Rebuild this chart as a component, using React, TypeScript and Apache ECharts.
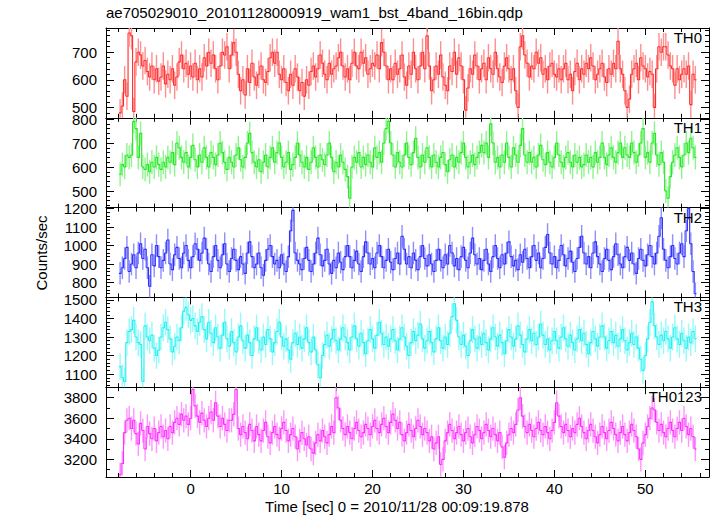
import React, { useEffect, useRef } from "react";
import * as echarts from "echarts";

// ---------------- data ----------------
const TITLE = "ae705029010_20101128000919_wam1_bst_4band_16bin.qdp";
const X_TITLE = "Time [sec] 0 = 2010/11/28 00:09:19.878";
const Y_TITLE = "Counts/sec";
const PANEL_NAMES = ["TH0", "TH1", "TH2", "TH3", "TH0123"];

const T0 = -7.75; // centre of the first bin [s]
const DT = 0.25; // bin width [s]

const th0 = [
  480, 505, 600, 540, 770, 760, 485, 665, 700, 690, 650, 670, 630, 610, 650, 600, 640, 595, 610, 650,
  585, 620, 600, 640, 580, 610, 665, 690, 640, 660, 620, 650, 610, 660, 600, 640, 610, 680, 650, 700,
  660, 690, 640, 600, 650, 700, 690, 720, 640, 690, 735, 700, 620, 560, 600, 545, 640, 590, 660, 610,
  580, 620, 650, 600, 590, 630, 680, 700, 660, 700, 620, 600, 640, 590, 560, 620, 580, 640, 610, 560,
  590, 540, 600, 580, 630, 650, 610, 640, 690, 660, 620, 600, 660, 620, 640, 650, 680, 700, 650, 610,
  640, 600, 660, 700, 650, 640, 700, 660, 680, 620, 640, 660, 650, 690, 640, 735, 700, 650, 600, 640,
  600, 660, 620, 640, 690, 610, 580, 650, 620, 700, 640, 600, 650, 700, 640, 760, 650, 560, 600, 650,
  620, 690, 610, 580, 560, 650, 630, 700, 620, 680, 650, 600, 490, 570, 640, 620, 690, 650, 600, 640,
  660, 600, 680, 640, 620, 700, 640, 610, 590, 650, 680, 640, 600, 640, 560, 500, 720, 760, 690, 660,
  610, 650, 640, 700, 660, 680, 620, 640, 600, 650, 660, 620, 610, 640, 600, 640, 660, 600, 620, 560,
  630, 660, 600, 640, 620, 660, 640, 680, 650, 600, 620, 640, 660, 610, 590, 640, 620, 660, 640, 740,
  640, 620, 560, 500, 530, 620, 640, 660, 600, 680, 650, 640, 610, 630, 620, 500, 640, 720, 700, 720,
  720, 690, 650, 640, 580, 640, 600, 620, 640, 620, 650, 510, 620, 600,
];

const th1 = [
  570, 610, 600, 650, 640, 650, 790, 760, 640, 740, 600, 590, 610, 580, 620, 600, 640, 610, 590, 620,
  600, 640, 620, 660, 610, 700, 680, 640, 620, 660, 600, 640, 690, 630, 600, 650, 620, 680, 640, 600,
  660, 640, 610, 650, 700, 660, 620, 590, 640, 620, 600, 650, 680, 630, 600, 640, 700, 740, 660, 620,
  600, 630, 580, 620, 650, 600, 640, 680, 620, 660, 700, 640, 600, 620, 660, 590, 610, 640, 700, 650,
  620, 600, 640, 590, 620, 680, 640, 600, 650, 630, 610, 650, 700, 640, 580, 620, 600, 650, 620, 590,
  560, 470, 600, 640, 620, 660, 600, 640, 610, 650, 620, 600, 680, 640, 660, 620, 700, 760, 790, 700,
  650, 600, 660, 620, 600, 650, 700, 640, 610, 660, 720, 640, 600, 650, 620, 680, 640, 600, 650, 620,
  600, 640, 660, 610, 580, 630, 650, 600, 640, 620, 660, 700, 640, 600, 620, 650, 610, 640, 660, 690,
  660, 700, 640, 780, 700, 620, 640, 600, 650, 620, 700, 640, 600, 680, 650, 620, 690, 760, 650, 620,
  660, 620, 640, 600, 650, 690, 630, 610, 660, 620, 600, 640, 700, 650, 620, 600, 640, 660, 620, 600,
  650, 620, 640, 600, 610, 650, 620, 640, 600, 660, 620, 640, 700, 640, 610, 650, 680, 640, 620, 660,
  700, 640, 680, 650, 640, 700, 660, 620, 650, 700, 760, 640, 660, 620, 700, 740, 650, 610, 660, 620,
  500, 470, 560, 620, 650, 680, 640, 600, 650, 700, 660, 720, 680, 640,
];

const th2 = [
  850, 880, 930, 990, 860, 900, 950, 880, 960, 1010, 930, 980, 880, 780, 950, 890, 1000, 940, 880, 920,
  960, 1030, 900, 870, 950, 990, 930, 880, 960, 1000, 920, 880, 940, 1010, 980, 920, 960, 1040, 980, 900,
  860, 940, 1000, 920, 880, 950, 1010, 900, 860, 930, 980, 920, 870, 940, 900, 850, 960, 1020, 940, 880,
  900, 960, 880, 840, 920, 980, 1000, 940, 900, 920, 880, 950, 900, 860, 940, 1080, 1190, 960, 920, 900,
  870, 930, 990, 920, 860, 900, 960, 1040, 950, 890, 920, 980, 900, 850, 920, 880, 960, 910, 870, 940,
  1000, 940, 880, 920, 970, 900, 860, 940, 1020, 960, 900, 930, 880, 960, 1000, 940, 880, 920, 980, 910,
  870, 930, 960, 900, 1050, 980, 900, 940, 880, 960, 920, 870, 940, 1000, 930, 890, 950, 900, 860, 920,
  980, 920, 880, 950, 900, 1000, 960, 890, 930, 870, 940, 990, 920, 880, 960, 1040, 950, 900, 930, 870,
  920, 980, 900, 860, 940, 1000, 930, 880, 950, 900, 960, 1020, 940, 890, 920, 870, 950, 910, 980, 930,
  880, 940, 1000, 920, 960, 880, 930, 990, 1060, 960, 900, 940, 880, 920, 1000, 950, 890, 930, 970, 910,
  860, 930, 990, 1050, 960, 900, 940, 880, 960, 1020, 940, 900, 860, 930, 980, 920, 870, 940, 1010, 950,
  900, 880, 940, 990, 920, 960, 900, 850, 930, 980, 920, 890, 950, 1000, 940, 900, 960, 1050, 1150, 980,
  920, 880, 940, 1000, 930, 900, 960, 1010, 940, 1080, 1200, 1010, 860, 740,
];

const th3 = [
  1140, 1080, 1060, 1270, 1330, 1340, 1390, 1300, 1270, 1260, 1060, 1360, 1300, 1280, 1310, 1240, 1200, 1230, 1300, 1350,
  1380, 1340, 1290, 1220, 1250, 1300, 1280, 1350, 1440, 1460, 1420, 1390, 1400, 1360, 1330, 1380, 1410, 1340, 1290, 1380,
  1320, 1270, 1350, 1300, 1240, 1310, 1380, 1290, 1250, 1330, 1270, 1220, 1300, 1360, 1280, 1240, 1310, 1270, 1200, 1290,
  1350, 1280, 1230, 1300, 1260, 1340, 1290, 1220, 1270, 1330, 1380, 1300, 1250, 1290, 1230, 1180, 1270, 1320, 1260, 1300,
  1240, 1290, 1350, 1270, 1220, 1300, 1230, 1150, 1080, 1200, 1260, 1310, 1250, 1290, 1340, 1280, 1230, 1290, 1350, 1300,
  1270, 1230, 1300, 1360, 1290, 1250, 1320, 1270, 1210, 1280, 1340, 1290, 1240, 1310, 1380, 1320, 1260, 1300, 1250, 1290,
  1340, 1280, 1230, 1290, 1350, 1300, 1250, 1200, 1270, 1330, 1280, 1310, 1370, 1290, 1240, 1280, 1330, 1270, 1220, 1290,
  1350, 1280, 1240, 1300, 1260, 1320, 1410, 1480, 1390, 1300, 1260, 1310, 1250, 1200, 1280, 1340, 1290, 1240, 1300, 1260,
  1320, 1270, 1230, 1290, 1350, 1300, 1250, 1310, 1270, 1210, 1280, 1340, 1300, 1250, 1290, 1360, 1310, 1260, 1220, 1290,
  1340, 1280, 1320, 1260, 1300, 1370, 1310, 1260, 1290, 1230, 1280, 1330, 1280, 1240, 1300, 1350, 1290, 1250, 1310, 1270,
  1230, 1290, 1340, 1280, 1320, 1260, 1210, 1270, 1330, 1290, 1250, 1300, 1360, 1300, 1240, 1280, 1330, 1270, 1310, 1250,
  1290, 1340, 1280, 1230, 1270, 1320, 1260, 1300, 1240, 1180, 1120, 1200, 1290, 1380, 1490, 1360, 1300, 1260, 1310, 1280,
  1330, 1290, 1240, 1300, 1350, 1290, 1260, 1320, 1280, 1240, 1300, 1270, 1330, 1290,
];

const th0123 = [
  3050, 3160, 3460, 3580, 3600, 3500, 3580, 3450, 3350, 3550, 3480, 3300, 3520, 3450, 3400, 3500, 3380, 3460, 3520, 3420,
  3480, 3400, 3520, 3460, 3560, 3600, 3540, 3640, 3580, 3620, 3540, 3600, 3880, 3720, 3620, 3560, 3650, 3580, 3520, 3600,
  3660, 3580, 3750, 3620, 3520, 3600, 3540, 3480, 3580, 3580, 3640, 3880, 3500, 3440, 3520, 3460, 3400, 3540, 3480, 3380,
  3520, 3440, 3380, 3480, 3560, 3420, 3360, 3460, 3520, 3440, 3400, 3500, 3560, 3480, 3380, 3440, 3500, 3420, 3300, 3380,
  3460, 3400, 3340, 3420, 3300, 3260, 3360, 3440, 3380, 3480, 3420, 3360, 3440, 3520, 3460, 3800, 3700, 3580, 3500, 3440,
  3520, 3460, 3400, 3500, 3560, 3480, 3420, 3460, 3540, 3500, 3440, 3520, 3580, 3500, 3460, 3540, 3600, 3520, 3460, 3560,
  3640, 3580, 3500, 3560, 3440, 3380, 3460, 3540, 3480, 3420, 3500, 3580, 3520, 3440, 3500, 3460, 3380, 3420, 3300, 3360,
  3420, 3150, 3200, 3380, 3460, 3540, 3480, 3400, 3460, 3520, 3440, 3380, 3460, 3500, 3420, 3360, 3440, 3520, 3480, 3400,
  3460, 3540, 3480, 3420, 3500, 3440, 3380, 3460, 3320, 3220, 3360, 3440, 3500, 3460, 3540, 3680, 3800, 3620, 3520, 3460,
  3540, 3480, 3420, 3500, 3560, 3480, 3440, 3520, 3460, 3400, 3480, 3560, 3750, 3620, 3520, 3460, 3540, 3480, 3420, 3500,
  3460, 3540, 3600, 3520, 3460, 3400, 3480, 3540, 3480, 3420, 3360, 3440, 3520, 3460, 3400, 3480, 3560, 3500, 3440, 3380,
  3460, 3520, 3440, 3380, 3460, 3540, 3480, 3420, 3300, 3200, 3360, 3440, 3520, 3600, 3700, 3680, 3560, 3480, 3540, 3460,
  3420, 3500, 3560, 3480, 3420, 3500, 3560, 3480, 3600, 3520, 3440, 3500, 3420, 3300,
];

// 1-sigma error per bin (counts/sec) of each panel
const ERRORS = [50, 50, 61, 72, 118];

// axis ranges and tick labels
const X_RANGE = [-9.3, 57.0];
const X_TICKS = [0, 10, 20, 30, 40, 50];
const Y_RANGES = [
  [462, 788],
  [431, 805],
  [720, 1205],
  [1029, 1514],
  [3028, 3902],
];
const Y_TICKS = [
  [500, 600, 700],
  [500, 600, 700, 800],
  [800, 900, 1000, 1100, 1200],
  [1100, 1200, 1300, 1400, 1500],
  [3200, 3400, 3600, 3800],
];
const Y_MINOR_STEP = [20, 20, 20, 20, 100];
const X_MINOR_STEP = 2;

// ---------------- styles ----------------
const FONT = '"Liberation Sans", Arial, Helvetica, sans-serif';
const STEP_COLORS = ["#ff2b2b", "#1fe81f", "#2b2bff", "#1ff0f0", "#ff2bff"];
const ERR_COLORS = ["#ff8e8e", "#8ef58e", "#8e8eff", "#95fafa", "#ff95ff"];

const LEFT = 106;
const RIGHT = 8;
const TOP = 28;
const PANEL_H = 89.8;

function minorValues(lo: number, hi: number, step: number, majors: number[]) {
  const out: number[] = [];
  const start = Math.ceil(lo / step) * step;
  for (let v = start; v <= hi + 1e-9; v += step) {
    const r = Math.round(v * 1000) / 1000;
    if (!majors.includes(r)) out.push(r);
  }
  return out;
}

const plain = (v: number) => String(v);

function buildOption() {
  const series = [th0, th1, th2, th3, th0123];
  const grids: any[] = [];
  const xAxes: any[] = [];
  const yAxes: any[] = [];
  const seriesList: any[] = [];
  const graphics: any[] = [];
  const xMinor = minorValues(X_RANGE[0], X_RANGE[1], X_MINOR_STEP, X_TICKS);
  const black = { color: "#000", width: 1 };

  series.forEach((vals, i) => {
    grids.push({ left: LEFT, right: RIGHT, top: TOP + i * PANEL_H, height: PANEL_H, containLabel: false });
    const xb = {
      type: "value",
      gridIndex: i,
      min: X_RANGE[0],
      max: X_RANGE[1],
      splitLine: { show: false },
    };
    const isLast = i === series.length - 1;
    xAxes.push(
      {
        ...xb,
        position: "bottom",
        axisLine: { show: true, onZero: false, lineStyle: black },
        axisTick: { show: true, inside: true, length: 7, customValues: X_TICKS, lineStyle: black },
        axisLabel: {
          show: isLast,
          customValues: X_TICKS,
          formatter: plain,
          margin: 4,
          fontSize: 15,
          color: "#000",
          fontFamily: FONT,
        },
      },
      {
        ...xb,
        position: "bottom",
        axisLine: { show: false, onZero: false },
        axisTick: { show: true, inside: true, length: 4, customValues: xMinor, lineStyle: black },
        axisLabel: { show: false },
      },
      {
        ...xb,
        position: "top",
        axisLine: { show: true, onZero: false, lineStyle: black },
        axisTick: { show: true, inside: true, length: 7, customValues: X_TICKS, lineStyle: black },
        axisLabel: { show: false },
      },
      {
        ...xb,
        position: "top",
        axisLine: { show: false, onZero: false },
        axisTick: { show: true, inside: true, length: 4, customValues: xMinor, lineStyle: black },
        axisLabel: { show: false },
      }
    );
    const [yMin, yMax] = Y_RANGES[i];
    const yMinor = minorValues(yMin, yMax, Y_MINOR_STEP[i], Y_TICKS[i]);
    const yb = { type: "value", gridIndex: i, min: yMin, max: yMax, splitLine: { show: false } };
    yAxes.push(
      {
        ...yb,
        position: "left",
        axisLine: { show: true, onZero: false, lineStyle: black },
        axisTick: { show: true, inside: true, length: 8, customValues: Y_TICKS[i], lineStyle: black },
        axisLabel: {
          show: true,
          customValues: Y_TICKS[i],
          formatter: plain,
          margin: 9,
          fontSize: 15,
          color: "#000",
          fontFamily: FONT,
        },
      },
      {
        ...yb,
        position: "left",
        axisLine: { show: false, onZero: false },
        axisTick: { show: true, inside: true, length: 4, customValues: yMinor, lineStyle: black },
        axisLabel: { show: false },
      },
      {
        ...yb,
        position: "right",
        axisLine: { show: true, onZero: false, lineStyle: black },
        axisTick: { show: true, inside: true, length: 8, customValues: Y_TICKS[i], lineStyle: black },
        axisLabel: { show: false },
      },
      {
        ...yb,
        position: "right",
        axisLine: { show: false, onZero: false },
        axisTick: { show: true, inside: true, length: 4, customValues: yMinor, lineStyle: black },
        axisLabel: { show: false },
      }
    );

    const err = ERRORS[i];
    const data = vals.map((v, k) => [T0 + k * DT, v, err, k + 1 < vals.length ? vals[k + 1] : v]);
    const stepColor = STEP_COLORS[i];
    const errColor = ERR_COLORS[i];
    const clamp = (v: number) => Math.max(yMin, Math.min(yMax, v));
    seriesList.push({
      type: "custom",
      name: PANEL_NAMES[i],
      xAxisIndex: i * 4,
      yAxisIndex: i * 4,
      data,
      encode: { x: 0, y: 1 },
      silent: true,
      renderItem: (_params: any, api: any) => {
        const t = api.value(0);
        const v = api.value(1);
        const e = api.value(2);
        const vn = api.value(3);
        const lo = api.coord([t, clamp(v - e)]);
        const hi = api.coord([t, clamp(v + e)]);
        const l = api.coord([t - DT / 2, clamp(v)]);
        const r = api.coord([t + DT / 2, clamp(v)]);
        const rn = api.coord([t + DT / 2, clamp(vn)]);
        return {
          type: "group",
          children: [
            {
              type: "line",
              shape: { x1: lo[0], y1: lo[1], x2: hi[0], y2: hi[1] },
              style: { stroke: errColor, lineWidth: 1.4 },
            },
            {
              type: "polyline",
              shape: { points: [l, r, rn] },
              style: { stroke: stepColor, lineWidth: 1.1, fill: null },
            },
          ],
        };
      },
    });

    graphics.push({
      type: "text",
      right: RIGHT + 7,
      top: TOP + i * PANEL_H + 2,
      style: { text: PANEL_NAMES[i], fontSize: 15, fontFamily: FONT, fill: "#000" },
      z: 100,
    });
  });

  graphics.push(
    {
      type: "text",
      left: LEFT,
      top: 5,
      style: { text: TITLE, fontSize: 15, fontFamily: FONT, fill: "#000" },
    },
    {
      type: "text",
      x: 397,
      y: 506,
      style: {
        text: X_TITLE,
        fontSize: 15,
        fontFamily: FONT,
        fill: "#000",
        textAlign: "center",
        textVerticalAlign: "middle",
      },
    },
    {
      type: "text",
      x: 41,
      y: 253,
      rotation: Math.PI / 2,
      style: {
        text: Y_TITLE,
        fontSize: 15,
        fontFamily: FONT,
        fill: "#000",
        textAlign: "center",
        textVerticalAlign: "middle",
      },
    }
  );

  return {
    animation: false,
    backgroundColor: "#fff",
    grid: grids,
    xAxis: xAxes,
    yAxis: yAxes,
    series: seriesList,
    graphic: graphics,
  };
}

export default function App() {
  const ref = useRef<HTMLDivElement>(null);
  useEffect(() => {
    if (!ref.current) return;
    const chart = echarts.init(ref.current, undefined, { renderer: "svg" });
    chart.setOption(buildOption() as any);
    return () => chart.dispose();
  }, []);
  return <div ref={ref} style={{ width: 717, height: 516, position: "absolute", left: 0, top: 0 }} />;
}
